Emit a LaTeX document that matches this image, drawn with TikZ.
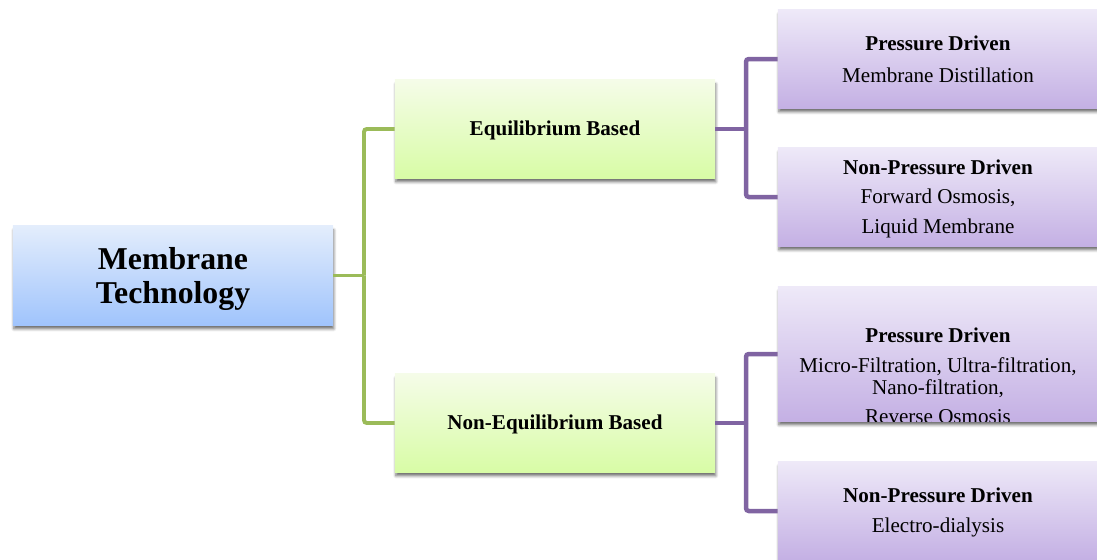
\documentclass[tikz,border=0pt]{standalone}
\usepackage{fontspec}
\setmainfont{Liberation Serif}
\usetikzlibrary{positioning,calc,shadows,shadows.blur}
\definecolor{blueTop}{RGB}{227,237,252}
\definecolor{blueBot}{RGB}{160,196,252}
\definecolor{greenTop}{RGB}{245,252,232}
\definecolor{greenBot}{RGB}{216,252,166}
\definecolor{violetTop}{RGB}{238,233,248}
\definecolor{violetBot}{RGB}{196,176,228}
\definecolor{greenLine}{RGB}{155,187,89}
\definecolor{violetLine}{RGB}{128,100,162}
\tikzstyle{box} = [rectangle, minimum width=8cm, minimum height=2.45cm, align=center, inner sep=0pt,
  blur shadow={shadow xshift=0.6pt, shadow yshift=-2.8pt, shadow blur steps=6, shadow opacity=55}]
\tikzstyle{rootbox} = [box, top color=blueTop, bottom color=blueBot, minimum height=2.475cm,
  font=\fontsize{22.6}{24.5}\selectfont\bfseries]
\tikzstyle{midbox} = [box, top color=greenTop, bottom color=greenBot, font=\fontsize{15}{20}\selectfont\bfseries]
\tikzstyle{leafbox} = [box, top color=violetTop, bottom color=violetBot, font=\fontsize{15}{21}\selectfont]
\tikzstyle{leaftext} = [align=center, inner sep=0pt, font=\fontsize{15}{21}\selectfont]
\tikzstyle{gline} = [draw=greenLine, line width=2.8pt, rounded corners=2pt]
\tikzstyle{vline} = [draw=violetLine, line width=3.2pt, rounded corners=2pt]

\begin{document}
\begin{tikzpicture}[x=0.025cm, y=-0.025cm]
    \useasboundingbox (0,0) rectangle (1097,559);

    % Root
    \node[rootbox] (root) at (173,275.5) {\rule{0pt}{21pt}Membrane\\Technology};

    % Second level
    \node[midbox] (eq) at (555,129) {\rule{0pt}{12.5pt}Equilibrium Based};
    \node[midbox] (neq) at (555,423) {\rule{0pt}{12.5pt}Non-Equilibrium Based};

    % Leaves
    \node[leafbox] (p1) at (938,59) {\textbf{Pressure Driven}\\[1.5pt]Membrane Distillation};
    \node[leafbox] (p2) at (938,197) {\rule{0pt}{12.5pt}\textbf{Non-Pressure Driven}\\Forward Osmosis,\\Liquid Membrane};
    \node[leafbox, minimum height=3.35cm] (p3) at (938,354) {};
    \begin{scope}
        \clip (p3.south west) rectangle (p3.north east);
        \node[leaftext] (p3txt) at (938,376) {\textbf{Pressure Driven}\\Micro-Filtration, Ultra-filtration,\\[-5.5pt]Nano-filtration,\\Reverse Osmosis};
    \end{scope}
    \node[leafbox] (p4) at (938,511) {\rule{0pt}{12.5pt}\textbf{Non-Pressure Driven}\\[1pt]Electro-dialysis};

    % Connections
    \coordinate (gsplit) at (364,275.5);
    \coordinate (vsplitA) at (746,129);
    \coordinate (vsplitB) at (746,423);
    \draw[gline] (root.east) -- (gsplit);
    \draw[gline] (gsplit) |- (eq.west);
    \draw[gline] (gsplit) |- (neq.west);
    \draw[vline] (eq.east) -- (vsplitA);
    \draw[vline] (vsplitA) |- (p1.west);
    \draw[vline] (vsplitA) |- (p2.west);
    \draw[vline] (neq.east) -- (vsplitB);
    \draw[vline] (vsplitB) |- (p3.west);
    \draw[vline] (vsplitB) |- (p4.west);
\end{tikzpicture}
\end{document}
